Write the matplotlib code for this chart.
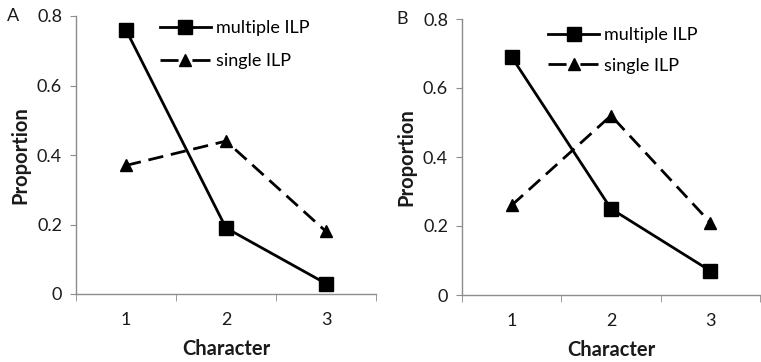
import matplotlib
matplotlib.use("Agg")
import matplotlib.pyplot as plt
from matplotlib.lines import Line2D

categories = [1, 2, 3]
tick_labels = ["1", "2", "3"]
a_multiple = [0.76, 0.19, 0.03]
a_single = [0.37, 0.44, 0.18]
b_multiple = [0.69, 0.25, 0.07]
b_single = [0.26, 0.52, 0.21]
yticks = [0, 0.2, 0.4, 0.6, 0.8]
ytick_labels = ["0", "0.2", "0.4", "0.6", "0.8"]
series_names = ["multiple ILP", "single ILP"]

plt.rcParams['font.family'] = ['Lato', 'DejaVu Sans']

fig = plt.figure(figsize=(7.61, 3.62), dpi=100)
W, H = 761, 362

def make_ax(l, r, b, t):
    return fig.add_axes([l / W, 1 - b / H, (r - l) / W, (b - t) / H])

axA = make_ax(76, 376, 294, 16)
axB = make_ax(462, 760, 295, 19)

gray = '#8c8c8c'
txt = '#1a1a1a'

def style(ax, multiple, single, leg_anchor, spacing, label, label_xy):
    ax.plot(categories, multiple, color='black', lw=2.0, marker='s', ms=10)
    ax.plot(categories, single, color='black', lw=2.0, marker='^', ms=8,
            dashes=(5.5, 2.8))
    ax.set_xlim(0.5, 3.5)
    ax.set_ylim(0, 0.8)
    ax.set_yticks(yticks)
    ax.set_yticklabels(ytick_labels)
    ax.set_xticks(categories)
    ax.set_xticklabels(tick_labels)
    ax.set_xticks([0.5, 1.5, 2.5, 3.5], minor=True)
    ax.tick_params(axis='x', which='major', length=0, pad=13, labelsize=13, labelcolor=txt)
    ax.tick_params(axis='x', which='minor', length=5, color=gray, direction='out')
    ax.tick_params(axis='y', length=4, color=gray, labelsize=13, pad=6, labelcolor=txt)
    for s in ['top', 'right']:
        ax.spines[s].set_visible(False)
    for s in ['left', 'bottom']:
        ax.spines[s].set_color(gray)
        ax.spines[s].set_linewidth(1)
    ax.set_ylabel('Proportion', fontsize=14.5, fontweight='bold', labelpad=5, color=txt)
    ax.set_xlabel('Character', fontsize=14.5, fontweight='bold', labelpad=8, color=txt)
    handles = [
        Line2D([], [], color='black', lw=2.0, marker='s', ms=10),
        Line2D([], [], color='black', lw=2.0, marker='^', ms=8, dashes=(6.5, 5.0)),
    ]
    ax.legend(handles, series_names, loc='upper left', bbox_to_anchor=leg_anchor,
              frameon=False, fontsize=13, handlelength=2.8, handletextpad=0.3,
              labelspacing=spacing, borderaxespad=0, borderpad=0)
    fig.text(label_xy[0] / W, 1 - label_xy[1] / H, label, fontsize=13,
             ha='left', va='center', color=txt)

style(axA, a_multiple, a_single, (0.28, 0.985), 0.95, 'A', (7, 16))
style(axB, b_multiple, b_single, (0.29, 0.97), 0.8, 'B', (396, 19))

fig.savefig('out.png', dpi=100)
